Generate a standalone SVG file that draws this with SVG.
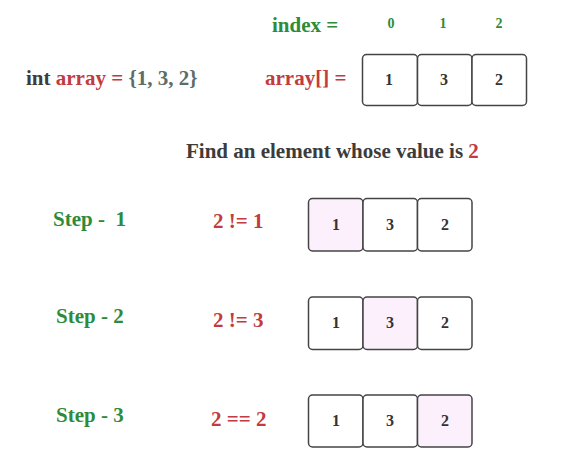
<svg xmlns="http://www.w3.org/2000/svg" width="580" height="462" viewBox="0 0 580 462">
<style>
text{font-family:"Liberation Serif","Times New Roman",serif;font-weight:bold;}
.t{font-size:21px;}
.g{fill:#2e8b3a;}
.r{fill:#c13b40;}
.d{fill:#3c3c3c;}
.gr{fill:#5d6d68;}
.idx{font-size:14px;fill:#2e8b3a;text-anchor:middle;}
.v{font-size:16px;fill:#333;text-anchor:middle;}
.c{fill:#fff;stroke:#444;stroke-width:1.5;}
.h{fill:#fbf0fb;stroke:#444;stroke-width:1.5;}
.pre{white-space:pre;}
</style>
<rect width="580" height="462" fill="#fff"/>

<g id="decl">
<text class="t" x="26" y="85"><tspan class="d">int </tspan><tspan class="r">array = </tspan><tspan class="gr">{1, 3, 2}</tspan></text>
</g>

<g id="index-row">
<text class="t g" x="272" y="32">index =</text>
<text class="idx" x="391" y="28">0</text>
<text class="idx" x="443" y="28">1</text>
<text class="idx" x="499" y="28">2</text>
</g>

<g id="array">
<text class="t r" x="265" y="85">array[] =</text>
<rect class="c" x="362.5" y="54.5" width="55" height="51" rx="4"/>
<rect class="c" x="417.5" y="54.5" width="54.5" height="51" rx="4"/>
<rect class="c" x="472" y="54.5" width="54.5" height="51" rx="4"/>
<text class="v" x="389" y="85">1</text>
<text class="v" x="444" y="85">3</text>
<text class="v" x="499" y="85">2</text>
</g>

<g id="title">
<text class="t d" x="186" y="158">Find an element whose value is <tspan class="r">2</tspan></text>
</g>

<g id="step1">
<text class="t g pre" x="53" y="226">Step -  1</text>
<text class="t r" x="213" y="228">2 != 1</text>
<rect class="h" x="308.5" y="198.5" width="54.5" height="52.5" rx="4"/>
<rect class="c" x="363" y="198.5" width="54.5" height="52.5" rx="4"/>
<rect class="c" x="417.5" y="198.5" width="54.5" height="52.5" rx="4"/>
<text class="v" x="336" y="230">1</text>
<text class="v" x="390" y="230">3</text>
<text class="v" x="445" y="230">2</text>
</g>

<g id="step2">
<text class="t g" x="56" y="323">Step - 2</text>
<text class="t r" x="213" y="327">2 != 3</text>
<rect class="c" x="308.5" y="297" width="54.5" height="52.5" rx="4"/>
<rect class="h" x="363" y="297" width="54.5" height="52.5" rx="4"/>
<rect class="c" x="417.5" y="297" width="54.5" height="52.5" rx="4"/>
<text class="v" x="336" y="328">1</text>
<text class="v" x="390" y="328">3</text>
<text class="v" x="445" y="328">2</text>
</g>

<g id="step3">
<text class="t g" x="56" y="422">Step - 3</text>
<text class="t r" x="211" y="426">2 == 2</text>
<rect class="c" x="308.5" y="395" width="54.5" height="52" rx="4"/>
<rect class="c" x="363" y="395" width="54.5" height="52" rx="4"/>
<rect class="h" x="417.5" y="395" width="54.5" height="52" rx="4"/>
<text class="v" x="336" y="426">1</text>
<text class="v" x="390" y="426">3</text>
<text class="v" x="445" y="426">2</text>
</g>

<g id="connectors"></g>
</svg>
